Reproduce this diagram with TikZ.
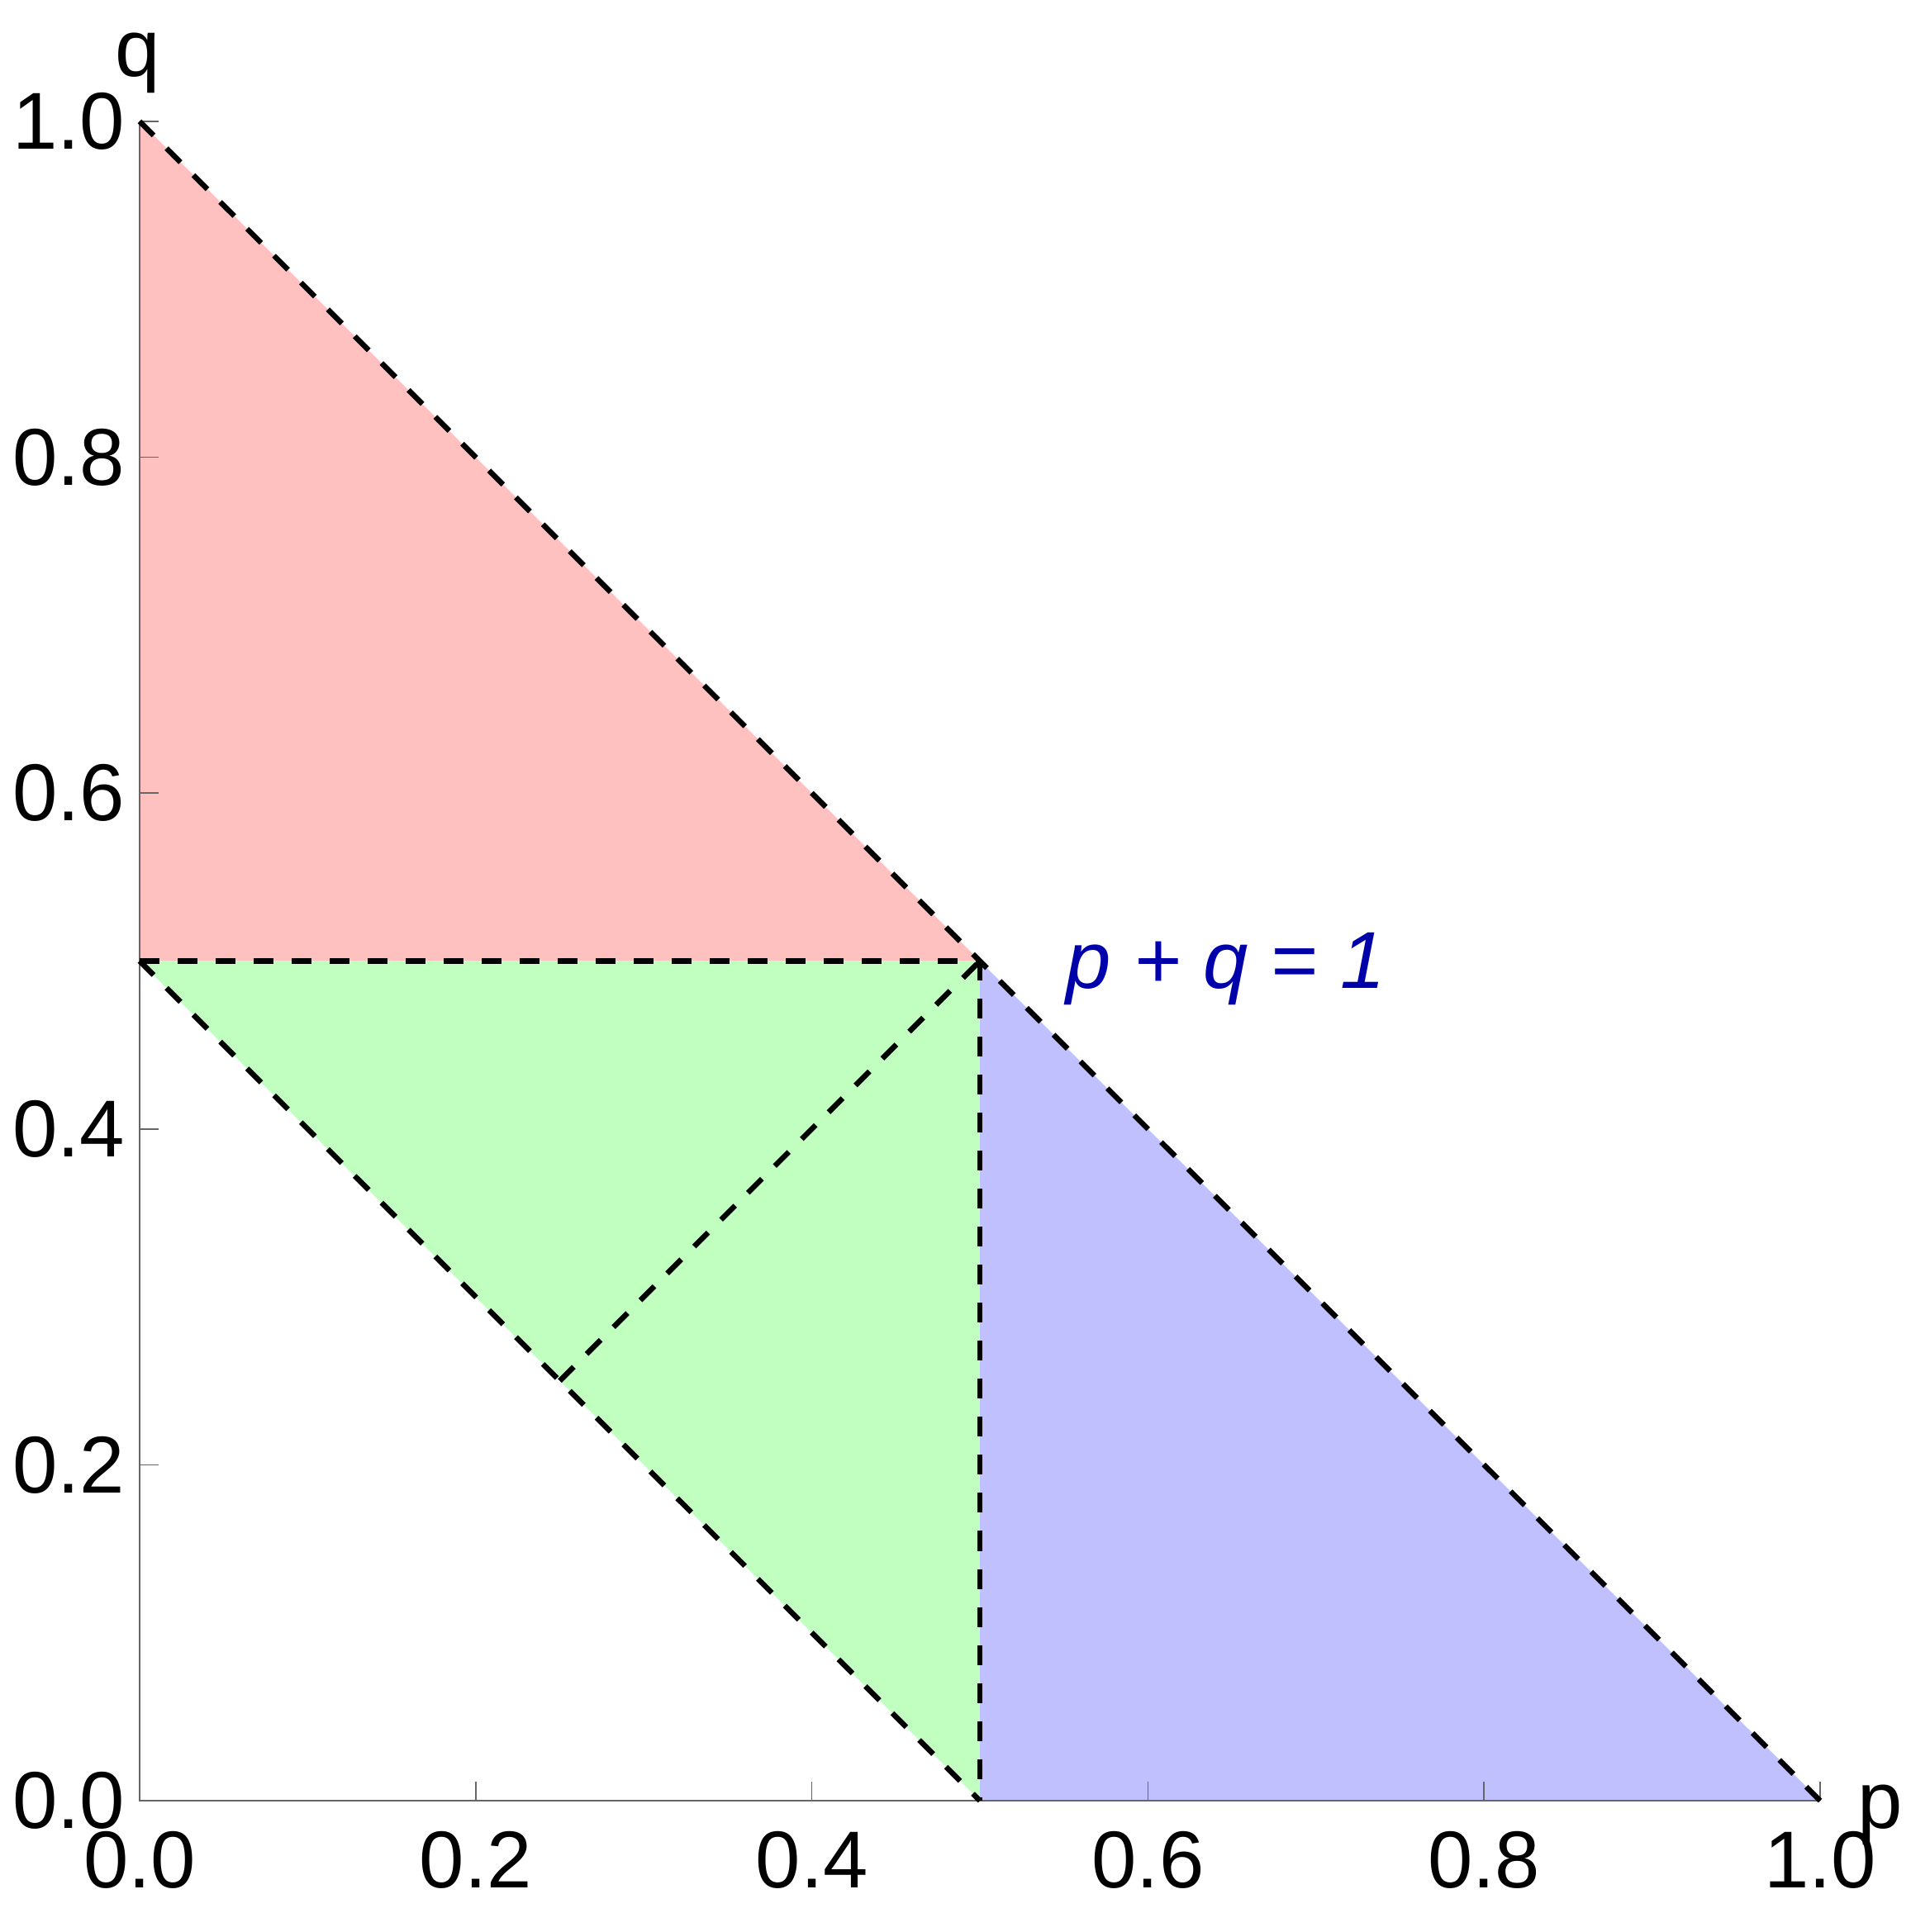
\documentclass[tikz,border=0pt]{standalone}
\usepackage{fontspec}
\setmainfont{Liberation Sans}
\definecolor{pinkfill}{RGB}{255,192,192}
\definecolor{greenfill}{RGB}{192,255,192}
\definecolor{bluefill}{RGB}{192,192,255}
\definecolor{axisgray}{RGB}{102,102,102}
\definecolor{eqblue}{RGB}{0,0,170}
\begin{document}
\begin{tikzpicture}[x=1cm,y=1cm,
  dline/.style={black, line width=0.065cm, dash pattern=on 0.24cm off 0.22cm},
  axisline/.style={draw=axisgray, line width=0.015cm},
  ticklbl/.style={font=\fontsize{27.8}{30}\selectfont, inner sep=0pt, text=black},
  axlbl/.style={font=\fontsize{27.8}{30}\selectfont, inner sep=0pt, text=black, anchor=base},
  eqlbl/.style={font=\itshape\fontsize{27.8}{30}\selectfont, inner sep=0pt, text=eqblue, anchor=base west}]
\useasboundingbox (0,0) rectangle (23.35,23.39);
\begin{scope}[shift={(1.69,1.59)}, x=20.34cm, y=20.33cm]
  \coordinate (O) at (0,0);
  \coordinate (A) at (0,1);
  \coordinate (B) at (1,0);
  \coordinate (M) at (0.5,0.5);
  \coordinate (L) at (0,0.5);
  \coordinate (D) at (0.5,0);
  \coordinate (Q) at (0.25,0.25);
  % regions
  \fill[pinkfill] (L) -- (A) -- (M) -- cycle;
  \fill[greenfill] (L) -- (M) -- (D) -- cycle;
  \fill[bluefill] (M) -- (B) -- (D) -- cycle;
  % axes
  \draw[axisline] (A) -- (O) -- (B);
  \foreach \t/\l [count=\i] in {0/0.0,0.2/0.2,0.4/0.4,0.6/0.6,0.8/0.8,1/1.0}{
    \draw[axisline] (\t,0) -- ++(0,0.23cm);
    \draw[axisline] (0,\t) -- ++(0.23cm,0);
    \node[ticklbl, anchor=north, yshift=-0.37cm] (xt\i) at (\t,0) {\l};
    \node[ticklbl, anchor=east, xshift=-0.17cm] (yt\i) at (0,\t) {\l};
  }
  % dashed lines
  \draw[dline] (A) -- (B);
  \draw[dline] (L) -- (M);
  \draw[dline] (M) -- (D);
  \draw[dline] (L) -- (D);
  \draw[dline] (Q) -- (M);
\end{scope}
\node[axlbl] (qlbl) at (1.67,22.46) {q};
\node[axlbl] (plbl) at (22.76,1.25) {p};
\node[eqlbl] (eq) at (12.90,11.42) {p + q = 1};
\end{tikzpicture}
\end{document}
